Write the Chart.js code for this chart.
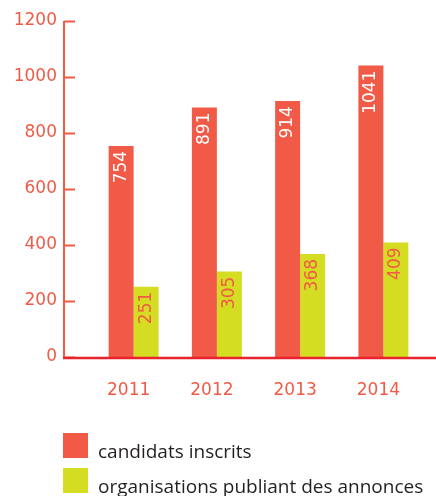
<!DOCTYPE html>
<html>
<head>
<meta charset="utf-8">
<script src="https://cdn.jsdelivr.net/npm/chart.js@4"></script>
<style>
  html, body { margin: 0; padding: 0; background: #fff; }
  #wrap { width: 436px; height: 496px; position: relative; }
</style>
</head>
<body>
<div id="wrap"><canvas id="chart"></canvas></div>
<script>
const years = ['2011', '2012', '2013', '2014'];
const candidats = [754, 891, 914, 1041];
const organisations = [251, 305, 368, 409];
const seriesNames = ['candidats inscrits', 'organisations publiant des annonces'];

const RED = '#f05a47';
const GREEN = '#d5dd22';
const AXIS_RED = '#e8232d';

// axis lines, tick marks, bar labels and the legend
const decor = {
    id: 'decor',
    afterDatasetsDraw(chart) {
        const ctx = chart.ctx;
        const y = chart.scales.y;
        const area = chart.chartArea;
        const axisX = 64;

        ctx.save();
        // value labels, rotated, inside the top of each bar
        ctx.font = '17px "DejaVu Sans"';
        ctx.textAlign = 'right';
        ctx.textBaseline = 'middle';
        chart.data.datasets.forEach((ds, i) => {
            chart.getDatasetMeta(i).data.forEach((bar, j) => {
                ctx.save();
                ctx.translate(bar.x, bar.y);
                ctx.rotate(-Math.PI / 2);
                ctx.fillStyle = i === 0 ? '#ffffff' : RED;
                ctx.fillText(String(ds.data[j]), -5, 0);
                ctx.restore();
            });
        });

        // y axis
        ctx.strokeStyle = RED;
        ctx.lineWidth = 2;
        ctx.beginPath();
        ctx.moveTo(axisX, y.getPixelForValue(1200));
        ctx.lineTo(axisX, area.bottom);
        y.ticks.forEach(t => {
            const py = Math.round(y.getPixelForValue(t.value)) + 0.5;
            ctx.moveTo(axisX, py);
            ctx.lineTo(axisX + 11, py);
        });
        ctx.stroke();

        // x axis
        ctx.strokeStyle = AXIS_RED;
        ctx.lineWidth = 2.5;
        ctx.beginPath();
        ctx.moveTo(axisX - 1, area.bottom + 1);
        ctx.lineTo(chart.width, area.bottom + 1);
        ctx.stroke();

        // legend
        const colors = [RED, GREEN];
        ctx.font = '19px "Open Sans"';
        ctx.textAlign = 'left';
        ctx.textBaseline = 'alphabetic';
        seriesNames.forEach((name, i) => {
            const top = 433 + i * 35;
            ctx.fillStyle = colors[i];
            ctx.fillRect(63, top, 25, 25);
            ctx.fillStyle = '#231f20';
            ctx.fillText(name, 98, top + 25);
        });
        ctx.restore();
    }
};

const data = {
    labels: years,
    datasets: [{
        label: seriesNames[0],
        data: candidats,
        backgroundColor: RED,
        barPercentage: 1,
        categoryPercentage: 0.6
    }, {
        label: seriesNames[1],
        data: organisations,
        backgroundColor: GREEN,
        barPercentage: 1,
        categoryPercentage: 0.6
    }]
};

const config = {
    type: 'bar',
    data: data,
    options: {
        responsive: true,
        maintainAspectRatio: false,
        animation: false,
        layout: {
            padding: { top: 21, right: 11, bottom: 94, left: 0 }
        },
        plugins: {
            legend: { display: false },
            tooltip: { enabled: false }
        },
        scales: {
            x: {
                grid: { display: false, drawTicks: false },
                border: { display: false },
                ticks: {
                    color: RED,
                    font: { family: 'DejaVu Sans', size: 17 },
                    padding: 23,
                    labelOffset: -5
                },
                afterFit(scale) { scale.height = 45; }
            },
            y: {
                min: 0,
                max: 1200,
                grid: { display: false, drawTicks: false },
                border: { display: false },
                ticks: {
                    stepSize: 200,
                    color: RED,
                    font: { family: 'DejaVu Sans', size: 17 },
                    padding: 35,
                    callback: v => String(v)
                },
                afterFit(scale) {
                    scale.width = 92;
                    scale.paddingTop = 0;
                    scale.paddingBottom = 0;
                }
            }
        }
    },
    plugins: [decor]
};

var chart = new Chart(
    document.getElementById('chart'),
    config
);
</script>
</body>
</html>
